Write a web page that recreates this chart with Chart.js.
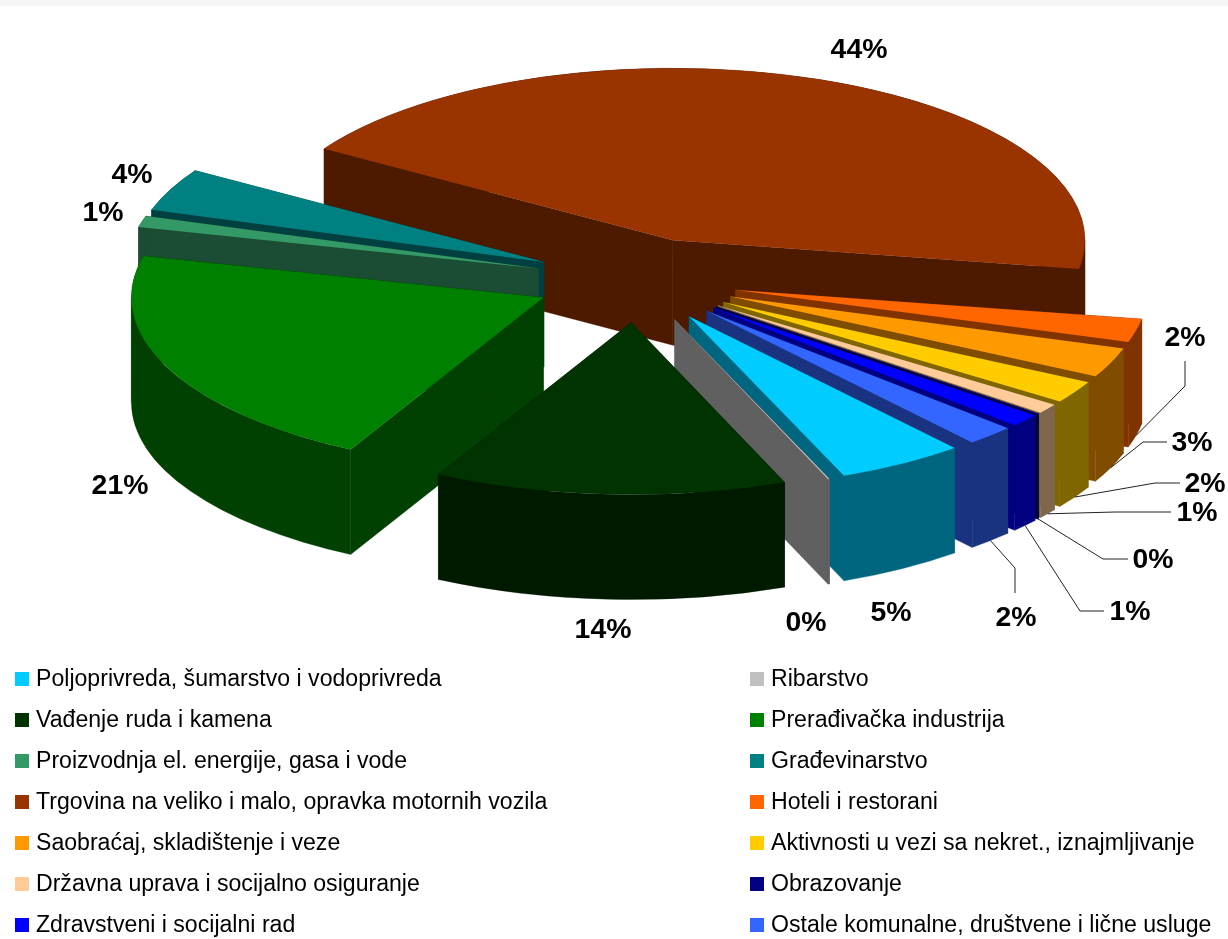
<!DOCTYPE html>
<html>
<head>
<meta charset="utf-8">
<title>Struktura po djelatnostima</title>
<script src="https://cdn.jsdelivr.net/npm/chart.js@4"></script>
<style>
    html, body { margin: 0; padding: 0; background: #fff; }
    body { position: relative; width: 1228px; height: 939px; overflow: hidden; font-family: "Liberation Sans", Arial, sans-serif; }
    #strip { position: absolute; left: 0; top: 0; width: 100%; height: 6px; background: #f6f6f6; }
    #pie { position: absolute; left: 0; top: 0; }
    #legend { position: absolute; left: 15px; top: 658px; display: grid; grid-template-columns: 735px 470px; grid-auto-rows: 41px; }
    .item { display: flex; align-items: center; font-size: 23.1px; color: #000; white-space: nowrap; }
    .box { width: 14px; height: 14px; margin-right: 7px; flex: none; }
</style>
</head>
<body>
<div id="strip"></div>
<canvas id="pie" width="1228" height="660"></canvas>
<div id="legend"></div>
<script>
const categories = [
    'Poljoprivreda, šumarstvo i vodoprivreda', 'Ribarstvo',
    'Vađenje ruda i kamena', 'Prerađivačka industrija',
    'Proizvodnja el. energije, gasa i vode', 'Građevinarstvo',
    'Trgovina na veliko i malo, opravka motornih vozila', 'Hoteli i restorani',
    'Saobraćaj, skladištenje i veze', 'Aktivnosti u vezi sa nekret., iznajmljivanje',
    'Državna uprava i socijalno osiguranje', 'Obrazovanje',
    'Zdravstveni i socijalni rad', 'Ostale komunalne, društvene i lične usluge'
];
const shares = [5.0, 0.06, 13.8, 21.1, 1.05, 4.0, 43.7, 2.2, 2.8, 2.1, 0.9, 0.06, 1.2, 1.9];
const colors = [
    '#00CCFF', '#C0C0C0', '#003300', '#008000', '#339966', '#008080', '#993300',
    '#FF6600', '#FF9900', '#FFCC00', '#FFCC99', '#000080', '#0000FF', '#3366FF'
];

// 3d look of the pie
const SQUASH = 0.4175;
const DEPTH = 105;
const EXPLODE = 102;

// where each percent label sits, and the elbow of its leader line if it has one
const labelSpots = [
    { x: 891, y: 613 }, { x: 806, y: 623 }, { x: 603, y: 630 }, { x: 120, y: 486 },
    { x: 103, y: 213 }, { x: 132, y: 175 }, { x: 859, y: 50 },
    { x: 1185, y: 338, leader: [[1185, 361], [1185, 386]] },
    { x: 1192, y: 443, leader: [[1167, 442], [1143, 442]] },
    { x: 1205, y: 484, leader: [[1180, 483], [1155, 483]] },
    { x: 1197, y: 513, leader: [[1171, 512], [1115, 512]] },
    { x: 1153, y: 560, leader: [[1128, 559], [1103, 559]] },
    { x: 1130, y: 612, leader: [[1104, 611], [1080, 611]] },
    { x: 1016, y: 618, leader: [[1015, 593], [1015, 568]] }
];

function halfTone(hex) {
    const n = parseInt(hex.slice(1), 16);
    const part = s => Math.round(((n >> s) & 255) / 2);
    return `rgb(${part(16)},${part(8)},${part(0)})`;
}

function fillWall(ctx, color, draw) {
    ctx.fillStyle = color;
    ctx.strokeStyle = color;
    ctx.lineWidth = 0.5;
    ctx.beginPath();
    draw();
    ctx.closePath();
    ctx.fill();
    ctx.stroke();
}

// the outer wall folds over where the rim turns back in x, so cut the sweep there
function rimPieces(startAngle, endAngle) {
    const cuts = [startAngle];
    for (let k = Math.ceil(startAngle / Math.PI); k * Math.PI < endAngle; k++) {
        cuts.push(k * Math.PI);
    }
    cuts.push(endAngle);
    return cuts;
}

function drawSlice(ctx, arc, index) {
    const { x, y, startAngle, endAngle, outerRadius } = arc;
    const mid = (startAngle + endAngle) / 2;
    const drop = DEPTH / SQUASH;
    const wall = halfTone(colors[index]);
    ctx.save();
    ctx.translate(Math.cos(mid) * EXPLODE, Math.sin(mid) * EXPLODE);
    [startAngle, endAngle].forEach(angle => {
        const rimX = x + Math.cos(angle) * outerRadius;
        const rimY = y + Math.sin(angle) * outerRadius;
        fillWall(ctx, wall, () => {
            ctx.moveTo(x, y);
            ctx.lineTo(rimX, rimY);
            ctx.lineTo(rimX, rimY + drop);
            ctx.lineTo(x, y + drop);
        });
    });
    const cuts = rimPieces(startAngle, endAngle);
    for (let i = 0; i < cuts.length - 1; i++) {
        fillWall(ctx, wall, () => {
            ctx.arc(x, y, outerRadius, cuts[i], cuts[i + 1]);
            ctx.arc(x, y + drop, outerRadius, cuts[i + 1], cuts[i], true);
        });
    }
    arc.draw(ctx);
    ctx.restore();
}

// bottom of the outer wall in the middle of a slice, in page pixels
function rimAnchor(arc) {
    const mid = (arc.startAngle + arc.endAngle) / 2;
    const reach = arc.outerRadius + EXPLODE;
    return {
        x: arc.x + Math.cos(mid) * reach,
        y: arc.y + Math.sin(mid) * reach * SQUASH + DEPTH
    };
}

const pie3d = {
    id: 'pie3d',
    // the library's own arcs are drawn here so that the walls can go between them
    beforeDatasetDraw(chart, args) {
        const ctx = chart.ctx;
        const arcs = args.meta.data;
        const cy = arcs[0].y;
        const order = arcs.map((arc, i) => i).sort((a, b) =>
            Math.sin((arcs[a].startAngle + arcs[a].endAngle) / 2) -
            Math.sin((arcs[b].startAngle + arcs[b].endAngle) / 2));
        ctx.save();
        ctx.translate(0, cy);
        ctx.scale(1, SQUASH);
        ctx.translate(0, -cy);
        order.forEach(i => drawSlice(ctx, arcs[i], i));
        ctx.restore();
        return false;
    },
    afterDatasetsDraw(chart) {
        const ctx = chart.ctx;
        const arcs = chart.getDatasetMeta(0).data;
        ctx.save();
        ctx.strokeStyle = '#222';
        ctx.lineWidth = 1;
        ctx.fillStyle = '#000';
        ctx.font = 'bold 28.4px "Liberation Sans", Arial, sans-serif';
        ctx.textAlign = 'center';
        ctx.textBaseline = 'middle';
        labelSpots.forEach((spot, i) => {
            if (spot.leader) {
                const end = rimAnchor(arcs[i]);
                ctx.beginPath();
                ctx.moveTo(spot.leader[0][0], spot.leader[0][1]);
                ctx.lineTo(spot.leader[1][0], spot.leader[1][1]);
                ctx.lineTo(end.x, end.y);
                ctx.stroke();
            }
            ctx.fillText(Math.round(shares[i]) + '%', spot.x, spot.y);
        });
        ctx.restore();
    }
};

const chart = new Chart(document.getElementById('pie').getContext('2d'), {
    type: 'pie',
    data: {
        labels: categories,
        datasets: [{ data: shares, backgroundColor: colors, borderWidth: 0, clip: false }]
    },
    options: {
        responsive: false,
        animation: false,
        rotation: 139.9,
        radius: 412,
        layout: { padding: { left: 45, bottom: 100 } },
        plugins: { legend: { display: false }, tooltip: { enabled: false } }
    },
    plugins: [pie3d]
});

const legend = document.getElementById('legend');
categories.forEach((name, i) => {
    const item = document.createElement('div');
    item.className = 'item';
    const box = document.createElement('span');
    box.className = 'box';
    box.style.background = colors[i];
    item.appendChild(box);
    item.appendChild(document.createTextNode(name));
    legend.appendChild(item);
});
</script>
</body>
</html>
